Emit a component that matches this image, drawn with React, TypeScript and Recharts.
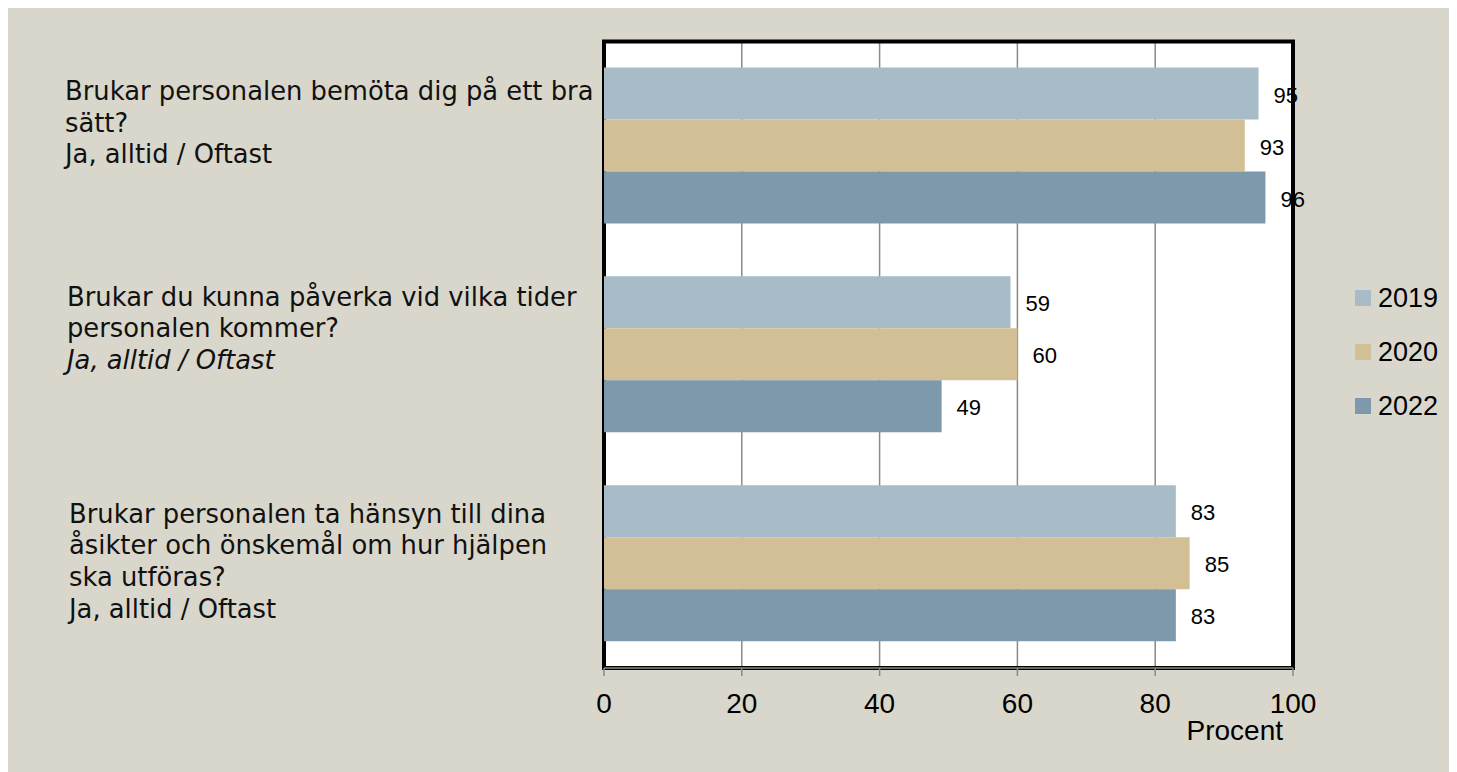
import React from 'react';
import { BarChart, Bar, XAxis, YAxis, CartesianGrid, Legend, LabelList, ReferenceArea } from 'recharts';

const categories = ['q1', 'q2', 'q3'];
const categoryLabelLines: string[][] = [
  ['Brukar personalen bemöta dig på ett bra', 'sätt?', 'Ja, alltid / Oftast'],
  ['Brukar du kunna påverka vid vilka tider', 'personalen kommer?', 'Ja, alltid / Oftast'],
  ['Brukar personalen ta hänsyn till dina', 'åsikter och önskemål om hur hjälpen', 'ska utföras?', 'Ja, alltid / Oftast'],
];
const italicLines: boolean[][] = [
  [false, false, false],
  [false, false, true],
  [false, false, false, false],
];
const seriesNames = ['2019', '2020', '2022'];
const values2019 = [95, 59, 83];
const values2020 = [93, 60, 85];
const values2022 = [96, 49, 83];
const seriesColors = ['#A7BCC7', '#D3BF95', '#7D99AB'];
const xTicks = [0, 20, 40, 60, 80, 100];
const xAxisLabel = 'Procent';

const seriesValues = [values2019, values2020, values2022];
const data = categories.map((c, i) => {
  const row: any = { name: c };
  seriesNames.forEach((s, k) => {
    row['s' + s] = seriesValues[k][i];
  });
  return row;
});

const NUM_FONT = '"Liberation Sans", Arial, sans-serif';
const CAT_FONT = '"DejaVu Sans", sans-serif';

const CategoryTick = (props: any) => {
  const { y, payload } = props;
  let index = props.index;
  if (index === undefined || index === null) index = categories.indexOf(payload.value);
  const lines = categoryLabelLines[index] || [];
  const xs = [57, 59, 61];
  const offs = [-46, -49, -41];
  const baseX = xs[index] ?? 57;
  const first = y + (offs[index] ?? -45);
  return (
    <g>
      {lines.map((ln, j) => (
        <text
          key={j}
          x={baseX}
          y={first + j * 31.7}
          fontFamily={CAT_FONT}
          fontSize={25.8}
          fontStyle={italicLines[index][j] ? 'italic' : 'normal'}
          fill="#111"
          textAnchor="start"
        >
          {ln}
        </text>
      ))}
    </g>
  );
};

const XTick = (props: any) => {
  const { x, y, payload } = props;
  return (
    <text x={x} y={y + 37} textAnchor="middle" fontFamily={NUM_FONT} fontSize={28} fill="#000">
      {payload.value}
    </text>
  );
};

const ValueLabel = (props: any) => {
  const { x, y, width, height, value } = props;
  return (
    <text x={x + width + 15} y={y + height / 2 + 9} fontFamily={NUM_FONT} fontSize={22} fill="#000" textAnchor="start">
      {value}
    </text>
  );
};

const ProcentLabel = (props: any) => {
  const vb = props.viewBox || { x: 0, y: 0, width: 0, height: 0 };
  return (
    <text x={vb.x + vb.width - 10} y={vb.y + 72} textAnchor="end" fontFamily={NUM_FONT} fontSize={28} fill="#000">
      {xAxisLabel}
    </text>
  );
};

const renderLegend = () => (
  <div style={{ fontFamily: NUM_FONT, fontSize: 27, color: '#000' }}>
    {seriesNames.map((n, i) => (
      <div key={n} style={{ height: 54, display: 'flex', alignItems: 'center' }}>
        <span style={{ display: 'inline-block', width: 16, height: 16, background: seriesColors[i], marginRight: 7 }} />
        <span style={{ lineHeight: '54px' }}>{n}</span>
      </div>
    ))}
  </div>
);

export default function App() {
  return (
    <>
      <style>{`html, body { overflow: hidden; }`}</style>
      <div style={{ width: 1520, height: 800, background: '#D9D7CB', position: 'relative', overflow: 'hidden' }}>
        <BarChart
          width={1449}
          height={764}
          data={data}
          layout="vertical"
          margin={{ top: 33.5, right: 164, bottom: 0, left: 0 }}
          barGap={0}
        >
          <CartesianGrid horizontal={false} vertical={true} stroke="#8A8A8A" strokeWidth={1.5} fill="#FFFFFF" fillOpacity={1} />
          <XAxis
            type="number"
            domain={[0, 100]}
            ticks={xTicks}
            interval={0}
            height={104}
            axisLine={{ stroke: '#8A8A8A', strokeWidth: 1.5 }}
            tickLine={{ stroke: '#8A8A8A', strokeWidth: 1.5 }}
            tickSize={8}
            tickMargin={0}
            tick={<XTick />}
            label={<ProcentLabel />}
          />
          <YAxis
            type="category"
            dataKey="name"
            width={596}
            axisLine={false}
            tickLine={false}
            tick={<CategoryTick />}
            interval={0}
          />
          <Legend
            layout="vertical"
            align="center"
            verticalAlign="middle"
            content={renderLegend}
            wrapperStyle={{ position: 'absolute', left: 1347, top: 263, width: 102, right: 'auto', bottom: 'auto' }}
          />
          {seriesNames.map((s, k) => (
            <Bar key={s} dataKey={'s' + s} name={s} fill={seriesColors[k]} barSize={52} isAnimationActive={false}>
              <LabelList dataKey={'s' + s} content={<ValueLabel />} />
            </Bar>
          ))}
          <ReferenceArea x1={0} x2={100} fill="none" fillOpacity={0} stroke="#000" strokeWidth={4} ifOverflow="visible" />
        </BarChart>
      </div>
    </>
  );
}
